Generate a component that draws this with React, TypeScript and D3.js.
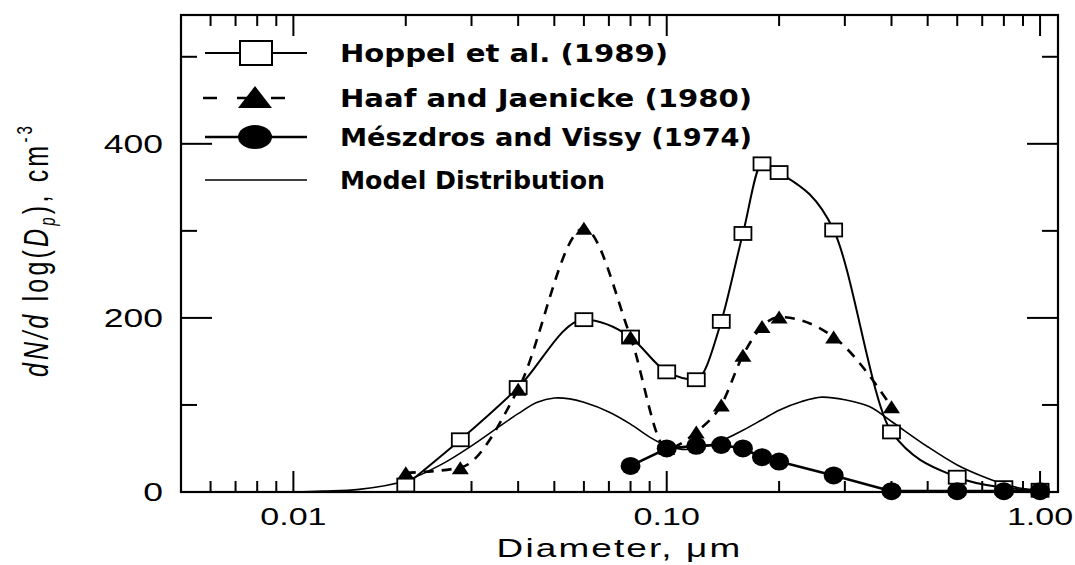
import React from 'react';
import * as d3 from 'd3';

// ---- data (diameter in µm, dN/dlogDp in cm^-3) ----
const hoppelD = [0.02, 0.028, 0.04, 0.06, 0.08, 0.1, 0.12, 0.14, 0.16, 0.18, 0.2, 0.28, 0.4, 0.6, 0.8, 1.0];
const hoppelN = [8, 60, 120, 198, 178, 138, 129, 196, 297, 377, 367, 301, 69, 17, 5, 2];

const haafD = [0.02, 0.028, 0.04, 0.06, 0.08, 0.1, 0.12, 0.14, 0.16, 0.18, 0.2, 0.28, 0.4];
const haafN = [22, 28, 118, 303, 178, 50, 69, 100, 157, 190, 201, 178, 98];

const meszD = [0.08, 0.1, 0.12, 0.14, 0.16, 0.18, 0.2, 0.28, 0.4, 0.6, 0.8, 1.0];
const meszN = [30, 50, 53, 54, 50, 40, 35, 19, 1, 1, 1, 1];

const modelD = [0.01, 0.012, 0.015, 0.02, 0.025, 0.03, 0.035, 0.04, 0.045, 0.05, 0.055, 0.06, 0.07, 0.08, 0.09, 0.1, 0.11, 0.12, 0.14, 0.16, 0.18, 0.2, 0.23, 0.26, 0.3, 0.35, 0.4, 0.5, 0.6, 0.7, 0.8, 0.9, 1.0];
const modelN = [0, 1, 3, 13, 32, 53, 73, 90, 103, 108, 107, 103, 92, 78, 63, 53, 49, 50, 59, 71, 83, 94, 104, 109, 106, 98, 81, 52, 31, 18, 9, 4, 2];

const xMajorTicks = [0.01, 0.1, 1];
const xMajorLabels = ['0.01', '0.10', '1.00'];
const xMinorTicks = [0.006, 0.007, 0.008, 0.009, 0.02, 0.03, 0.04, 0.05, 0.06, 0.07, 0.08, 0.09, 0.2, 0.3, 0.4, 0.5, 0.6, 0.7, 0.8, 0.9];
const yMajorTicks = [0, 200, 400];
const yMajorLabels = ['0', '200', '400'];
const yMinorTicks = [100, 300, 500];

const legendLabels = ['Hoppel et al. (1989)', 'Haaf and Jaenicke (1980)', 'Mészdros and Vissy (1974)', 'Model Distribution'];

const FONT = "'Liberation Sans', Arial, sans-serif";
const SX = 1.42;

function zip(d: number[], n: number[]) {
  return d.map((v, i) => [v, n[i]] as [number, number]);
}

export default function App() {
  const W = 1075, H = 565;
  const L = 181, R = 1058, T = 15, B = 492;
  const x = d3.scaleLog().domain([0.005, 1.117]).range([L, R]);
  const y = d3.scaleLinear().domain([0, 548]).range([B, T]);

  const lineSmooth = d3.line<[number, number]>().x(d => x(d[0])).y(d => y(d[1])).curve(d3.curveMonotoneX);
  const lineModel = d3.line<[number, number]>().x(d => x(d[0])).y(d => y(d[1])).curve(d3.curveCatmullRom.alpha(0.5));
  const lineStraight = d3.line<[number, number]>().x(d => x(d[0])).y(d => y(d[1]));

  const hoppel = zip(hoppelD, hoppelN);
  const haaf = zip(haafD, haafN);
  const mesz = zip(meszD, meszN);
  const model = zip(modelD, modelN);

  const sqW = 17, sqH = 13;
  const triW = 17, triH = 13;
  const cRx = 10, cRy = 9;
  const tri = (cx: number, cy: number, w: number, h: number) =>
    `M${cx - w / 2},${cy + h / 2}L${cx},${cy - h / 2}L${cx + w / 2},${cy + h / 2}Z`;

  const legX0 = 205, legX1 = 307, legMX = 256, legTX = 340;
  const legY = [53, 98, 137, 180];
  const legEnd = [668, 752, 752, 605];

  return (
    <svg width={W} height={H} style={{ position: 'absolute', left: 0, top: 0, background: '#fff' }}>
      <rect x={0} y={0} width={W} height={H} fill="#fff" />
      {/* frame */}
      <rect x={L} y={T} width={R - L} height={B - T} fill="none" stroke="#000" strokeWidth={2.2} />

      {/* x ticks bottom & top */}
      {xMajorTicks.map((t, i) => (
        <g key={'xm' + i}>
          <line x1={x(t)} x2={x(t)} y1={B} y2={B - 21} stroke="#000" strokeWidth={2} />
          <line x1={x(t)} x2={x(t)} y1={T} y2={T + 21} stroke="#000" strokeWidth={2} />
          <text transform={`translate(${x(t)},525) scale(${SX},1)`} textAnchor="middle" fontSize={24} fontFamily={FONT} fill="#000">{xMajorLabels[i]}</text>
        </g>
      ))}
      {xMinorTicks.map((t, i) => (
        <g key={'xn' + i}>
          <line x1={x(t)} x2={x(t)} y1={B} y2={B - 11} stroke="#000" strokeWidth={2} />
          <line x1={x(t)} x2={x(t)} y1={T} y2={T + 11} stroke="#000" strokeWidth={2} />
        </g>
      ))}
      {/* y ticks left & right */}
      {yMajorTicks.map((t, i) => (
        <g key={'ym' + i}>
          <line x1={L} x2={L + 31} y1={y(t)} y2={y(t)} stroke="#000" strokeWidth={2} />
          <line x1={R} x2={R - 31} y1={y(t)} y2={y(t)} stroke="#000" strokeWidth={2} />
          <text transform={`translate(163,${y(t) + 9}) scale(${SX},1)`} textAnchor="end" fontSize={25} fontFamily={FONT} fill="#000">{yMajorLabels[i]}</text>
        </g>
      ))}
      {yMinorTicks.map((t, i) => (
        <g key={'yn' + i}>
          <line x1={L} x2={L + 16} y1={y(t)} y2={y(t)} stroke="#000" strokeWidth={2} />
          <line x1={R} x2={R - 16} y1={y(t)} y2={y(t)} stroke="#000" strokeWidth={2} />
        </g>
      ))}

      {/* axis titles */}
      <text transform={`translate(${(L + R) / 2},557) scale(${SX},1)`} textAnchor="middle" fontSize={26} fontFamily={FONT} letterSpacing={1.5} fill="#000">Diameter,  μm</text>
      <text transform={`translate(48,250) scale(${SX},1) rotate(-90)`} textAnchor="middle" fontSize={25} fontFamily={FONT} letterSpacing={3.2} fill="#000">
        <tspan fontStyle="italic">dN/d</tspan>
        <tspan> log(</tspan>
        <tspan fontStyle="italic">D</tspan>
        <tspan fontStyle="italic" fontSize={15} dy={5}>p</tspan>
        <tspan dy={-5}>),  cm</tspan>
        <tspan fontSize={15} dy={-11}>-3</tspan>
      </text>

      {/* series lines */}
      <path d={lineModel(model) || ''} fill="none" stroke="#000" strokeWidth={1.6} />
      <path d={lineSmooth(hoppel) || ''} fill="none" stroke="#000" strokeWidth={2} />
      <path d={lineSmooth(haaf) || ''} fill="none" stroke="#000" strokeWidth={2.6} strokeDasharray="10,8" />
      <path d={lineStraight(mesz) || ''} fill="none" stroke="#000" strokeWidth={2.6} />

      {/* markers */}
      {hoppel.map((d, i) => (
        <rect key={'hs' + i} x={x(d[0]) - sqW / 2} y={y(d[1]) - sqH / 2} width={sqW} height={sqH} fill="#fff" stroke="#000" strokeWidth={1.8} />
      ))}
      {haaf.map((d, i) => (
        <path key={'ht' + i} d={tri(x(d[0]), y(d[1]), triW, triH)} fill="#000" />
      ))}
      {mesz.map((d, i) => (
        <ellipse key={'mc' + i} cx={x(d[0])} cy={y(d[1])} rx={cRx} ry={cRy} fill="#000" />
      ))}

      {/* legend */}
      <line x1={legX0} x2={legX1} y1={legY[0]} y2={legY[0]} stroke="#000" strokeWidth={2} />
      <rect x={legMX - 16} y={legY[0] - 12} width={32} height={24} fill="#fff" stroke="#000" strokeWidth={2} />
      <line x1={legX0 - 2} x2={legX1 - 20} y1={legY[1]} y2={legY[1]} stroke="#000" strokeWidth={2.6} strokeDasharray="14,20" />
      <path d={tri(legMX - 1, legY[1] - 1, 34, 22)} fill="#000" />
      <line x1={legX0} x2={legX1} y1={legY[2]} y2={legY[2]} stroke="#000" strokeWidth={2.6} />
      <ellipse cx={legMX - 1} cy={legY[2]} rx={17} ry={12} fill="#000" />
      <line x1={legX0} x2={legX1} y1={legY[3]} y2={legY[3]} stroke="#000" strokeWidth={1.6} />
      {legendLabels.map((s, i) => (
        <text key={'lg' + i} x={legTX} y={legY[i] + 9} fontSize={24} fontWeight="bold" fontFamily="'DejaVu Sans', sans-serif"
          textLength={legEnd[i] - legTX} lengthAdjust="spacingAndGlyphs" fill="#000">{s}</text>
      ))}
    </svg>
  );
}
